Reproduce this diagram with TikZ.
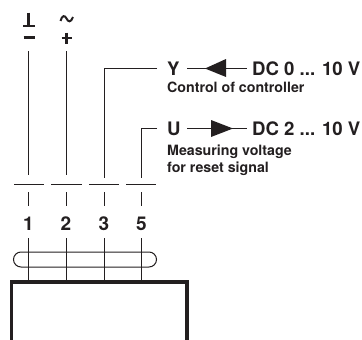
\documentclass[tikz,border=0pt]{standalone}
\usepackage{fontspec}
\setmainfont{TeX Gyre Heros}[BoldFont=* Bold]
\definecolor{ink}{HTML}{231F20}
\tikzset{
  wire/.style={draw=ink,line width=1pt},
  heavy/.style={draw=ink,line width=3.2pt},
  big/.style={inner sep=0pt,text=ink,font=\bfseries\fontsize{18.6}{20}\selectfont,anchor=base west},
  small/.style={inner sep=0pt,text=ink,font=\bfseries\fontsize{14.2}{16}\selectfont,anchor=base west},
  num/.style={inner sep=0pt,text=ink,font=\bfseries\fontsize{19}{21}\selectfont,anchor=base},
  tip/.style={fill=ink,draw=none}
}
\begin{document}
\begin{tikzpicture}[x=1pt,y=-1pt]
\useasboundingbox (0,0) rectangle (362,340);
% supply symbols
\coordinate (gt) at (28.5,12.5);
\coordinate (gb) at (28.5,26);
\draw[draw=ink,line width=2.4pt] (gt) -- (gb);
\coordinate (gl) at (23,26);
\coordinate (gr) at (35,26);
\draw[draw=ink,line width=2.4pt] (gl) -- (gr);
\coordinate (ml) at (23.5,37.5);
\coordinate (mr) at (35,37.5);
\draw[draw=ink,line width=2.4pt] (ml) -- (mr);
\draw[draw=ink,line width=2pt] (60.5,21) .. controls (62,15) and (65,15) .. (66.5,18.5) .. controls (68,22) and (71,23) .. (73,17);
\coordinate (pa) at (61.5,38);
\coordinate (pb) at (72,38);
\coordinate (pc) at (66.7,32.5);
\coordinate (pd) at (66.7,43.5);
\draw[draw=ink,line width=2.6pt] (pa) -- (pb) (pc) -- (pd);
% upper wires
\coordinate (w1t) at (28.5,51);
\coordinate (w1b) at (28.5,175);
\coordinate (w2t) at (66,51);
\coordinate (w2b) at (66,175);
\coordinate (w3b) at (104,178);
\coordinate (w5b) at (141.5,178);
\node[big] (Y) at (167,75) {Y};
\node[big] (U) at (167,135) {U};
\node[big] (dc0) at (252,75) {DC 0 ... 10 V};
\node[big] (dc2) at (252,135) {DC 2 ... 10 V};
\node[small] (ctl) at (167,92.5) {Control of controller};
\node[small] (mv) at (167,155) {Measuring voltage};
\node[small] (rs) at (167,172.5) {for reset signal};
\coordinate (h3) at (157,68.5);
\coordinate (h5) at (157,128.5);
\draw[wire] (w1t) -- (w1b);
\draw[wire] (w2t) -- (w2b);
\draw[wire] (h3) -- (104,68.5) -- (w3b);
\draw[wire] (h5) -- (141.5,128.5) -- (w5b);
% arrows
\coordinate (a1) at (187,68.5);
\coordinate (a2) at (247,68.5);
\draw[wire] (a1) -- (a2);
\fill[tip] (205,68.5) -- (226,59) -- (226,77) -- cycle;
\coordinate (b1) at (187,128.5);
\coordinate (b2) at (247,128.5);
\draw[wire] (b1) -- (b2);
\fill[tip] (233,128.5) -- (211,120) -- (211,137) -- cycle;
% switch dashes
\foreach \n/\l/\r in {d1/14/44,d2/51/82,d3/89/119,d5/126/156}{
  \coordinate (\n l) at (\l,184);
  \coordinate (\n r) at (\r,184);
  \draw[wire] (\n l) -- (\n r);
}
% ticks and numbers
\foreach \n/\x/\t in {1/28.5/1,2/66/2,3/104/3,5/141.5/5}{
  \coordinate (t\n a) at (\x,192);
  \coordinate (t\n b) at (\x,206);
  \draw[wire] (t\n a) -- (t\n b);
  \node[num] (n\n) at (\x,230) {\t};
  \coordinate (l\n a) at (\x,238);
  \coordinate (l\n b) at (\x,281);
  \draw[wire] (l\n a) -- (l\n b);
}
% cable pill
\node[draw=ink,line width=1pt,rounded corners=7.5pt,minimum width=143pt,minimum height=15pt,inner sep=0pt] (pill) at (85,259.5) {};
% housing
\coordinate (hl) at (11.5,340);
\coordinate (hr) at (187,340);
\draw[heavy] (hl) -- (11.5,282) -- (187,282) -- (hr);
\end{tikzpicture}
\end{document}
